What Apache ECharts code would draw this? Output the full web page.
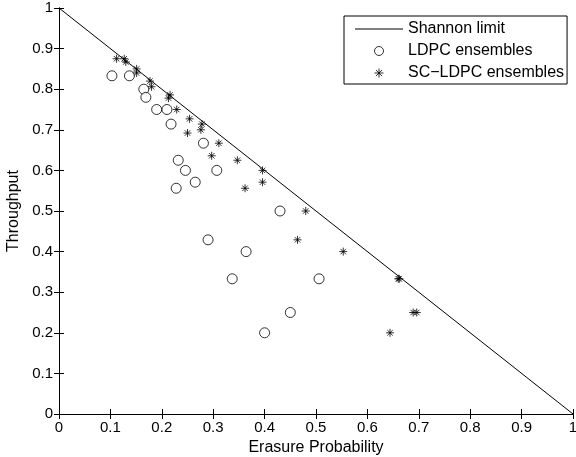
<!DOCTYPE html>
<html>
<head>
<meta charset="utf-8">
<script src="https://cdn.jsdelivr.net/npm/echarts@6/dist/echarts.min.js"></script>
<style>
  html, body { margin: 0; padding: 0; background: #fff; }
  #chart { width: 576px; height: 457px; }
</style>
</head>
<body>
<div id="chart"></div>
<script>
// erasure probability vs throughput
const shannon = [[0, 1], [1, 0]]
const ldpc = [
  [0.103, 0.833], [0.137, 0.833], [0.165, 0.8], [0.169, 0.78], [0.19, 0.75],
  [0.21, 0.75], [0.218, 0.714], [0.281, 0.667], [0.232, 0.625], [0.246, 0.6],
  [0.307, 0.6], [0.265, 0.571], [0.228, 0.556], [0.43, 0.5], [0.29, 0.429],
  [0.364, 0.4], [0.337, 0.333], [0.506, 0.333], [0.45, 0.25], [0.4, 0.2]
]
const scLdpc = [
  [0.112, 0.875], [0.127, 0.875], [0.13, 0.867], [0.151, 0.85], [0.151, 0.84],
  [0.177, 0.82], [0.18, 0.806], [0.216, 0.786], [0.213, 0.778], [0.229, 0.75],
  [0.254, 0.727], [0.278, 0.714], [0.276, 0.7], [0.25, 0.692], [0.311, 0.667],
  [0.297, 0.636], [0.347, 0.625], [0.396, 0.6], [0.396, 0.571], [0.362, 0.556],
  [0.48, 0.5], [0.464, 0.429], [0.553, 0.4], [0.66, 0.333], [0.662, 0.333],
  [0.689, 0.25], [0.696, 0.25], [0.644, 0.2]
]
const names = ['Shannon limit', 'LDPC ensembles', 'SC\u2212LDPC ensembles']

const font = 'Liberation Sans, Arial, sans-serif'
const star = 'path://M5,0L5,10M0,5L10,5M1.6,1.6L8.4,8.4M1.6,8.4L8.4,1.6'

const axisCommon = {
  min: 0, max: 1, interval: 0.1,
  axisLine: { show: true, lineStyle: { color: '#000', width: 1 } },
  axisTick: { show: true, inside: true, length: 5, lineStyle: { color: '#000' } },
  splitLine: { show: false }
}
const tickLabel = {
  color: '#000', fontSize: 15, fontFamily: font, margin: 6,
  formatter: v => String(Math.round(v * 10) / 10)
}

const chart = echarts.init(document.getElementById('chart'))
chart.setOption({
  animation: false,
  backgroundColor: '#fff',
  textStyle: { fontFamily: font },
  grid: { left: 59, right: 3, top: 8, bottom: 43, outerBoundsMode: 'none' },
  legend: {
    data: [
      { name: names[0], icon: 'path://M0,0L48,0L48,1L0,1Z' },
      { name: names[1], itemStyle: { borderWidth: 1 } },
      { name: names[2], itemStyle: { borderWidth: 1 } }
    ],
    orient: 'vertical',
    left: 344, top: 16,
    padding: [5, 3, 3, 11],
    itemGap: 6,
    itemWidth: 48,
    itemHeight: 9,
    borderColor: '#000', borderWidth: 1, borderRadius: 0,
    textStyle: { fontFamily: font, fontSize: 16, color: '#000' },
    backgroundColor: '#fff'
  },
  xAxis: [
    Object.assign({}, axisCommon, {
      type: 'value', position: 'bottom',
      name: 'Erasure Probability', nameLocation: 'middle', nameGap: 23,
      nameTextStyle: { fontFamily: font, fontSize: 16, color: '#000' },
      axisLabel: tickLabel
    }),
    Object.assign({}, axisCommon, {
      type: 'value', position: 'top', axisLabel: { show: false }
    })
  ],
  yAxis: [
    Object.assign({}, axisCommon, {
      type: 'value', position: 'left',
      name: 'Throughput', nameLocation: 'middle', nameGap: 30,
      nameTextStyle: { fontFamily: font, fontSize: 16, color: '#000' },
      axisLabel: tickLabel
    }),
    Object.assign({}, axisCommon, {
      type: 'value', position: 'right', axisLabel: { show: false }
    })
  ],
  series: [
    {
      name: names[0], type: 'line', data: shannon,
      symbol: 'none', lineStyle: { color: '#000', width: 1 },
      itemStyle: { color: '#000' }
    },
    {
      name: names[1], type: 'scatter', data: ldpc,
      symbol: 'circle', symbolSize: 10,
      itemStyle: { color: '#fff', borderColor: '#000', borderWidth: 1 }
    },
    {
      name: names[2], type: 'scatter', data: scLdpc,
      symbol: star, symbolSize: 8,
      itemStyle: { color: 'rgba(0,0,0,0)', borderColor: '#000', borderWidth: 1 }
    }
  ]
})
</script>
</body>
</html>
